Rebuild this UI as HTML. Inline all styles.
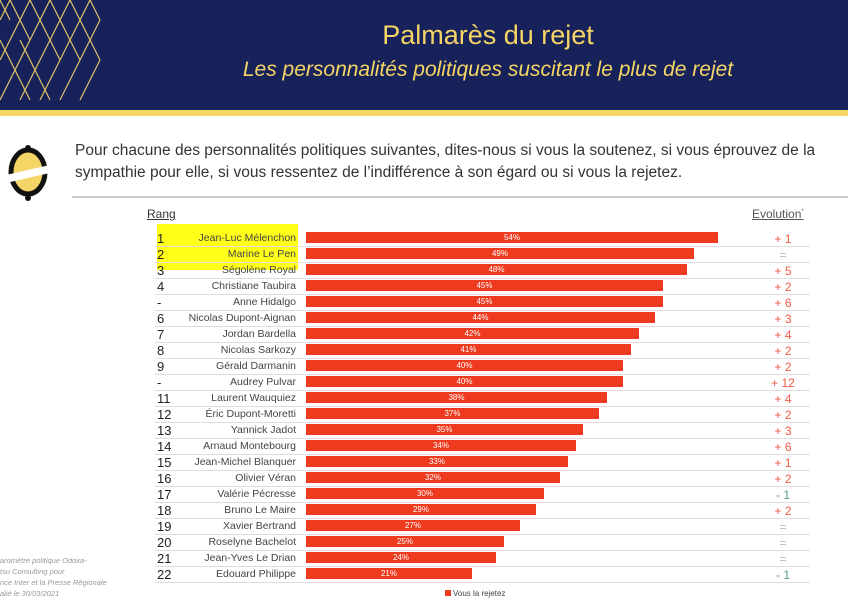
<!DOCTYPE html>
<html><head><meta charset="utf-8"><style>
body{margin:0;width:848px;height:600px;position:relative;overflow:hidden;background:#fff;font-family:"Liberation Sans",sans-serif}
.hdr{position:absolute;left:0;top:0;width:848px;height:110px;background:#17215a}
.stripe{position:absolute;left:0;top:110px;width:848px;height:6px;background:#f5d565}
.t1{position:absolute;left:0;width:976px;text-align:center;top:20px;color:#f5d565;font-size:27px}
.t2{position:absolute;left:0;width:976px;text-align:center;top:58px;color:#f5d565;font-size:21px;font-style:italic}
.q{position:absolute;left:75px;top:140px;font-size:15.5px;color:#333;line-height:22px;width:760px}
.ln{position:absolute;left:72px;top:196px;width:776px;height:2px;background:#ccc}
.row{position:absolute;left:155px;width:655px;height:16px;border-bottom:1px solid #ddd;font-size:10.5px;color:#444;line-height:16px}
.rk{position:absolute;left:2px;top:1px;font-size:13px;color:#222}
.nm{position:absolute;right:514px;top:0;white-space:nowrap}
.bar{position:absolute;left:151px;top:2px;height:11px;background:#ee3a1f;color:#fff;font-size:8px;text-align:center;line-height:11px}
.ev{position:absolute;left:598px;width:60px;text-align:center;top:1px;font-size:12px}
</style></head><body>
<div class="hdr">
<svg width="210" height="110" style="position:absolute;left:0;top:0">
<g stroke="#f5d565" stroke-width="1.2" fill="none" opacity="0.9">
<path d="M0 20 l10 -20 M10 40 l20 -40 M0 60 l30 -60 M10 80 l40 -80 M0 100 l50 -100 M20 100 l50 -100 M40 100 l50 -100 M60 100 l40 -80 M80 100 l20 -40"/>
<path d="M0 0 l10 20 M10 0 l20 40 M30 0 l30 60 M50 0 l30 60 M70 0 l30 60 M90 0 l10 20 M0 40 l30 60 M20 40 l30 60"/>
</g></svg>
<div class="t1">Palmarès du rejet</div>
<div class="t2">Les personnalités politiques suscitant le plus de rejet</div>
</div>
<div class="stripe"></div>
<svg width="50" height="60" style="position:absolute;left:6px;top:142px"><ellipse cx="22" cy="30" rx="17" ry="22" fill="#f5d565" stroke="#111" stroke-width="5"/><polygon points="0,33 48,22 48,30 0,41" fill="#fff"/><circle cx="22" cy="6" r="3" fill="#111"/><circle cx="22" cy="56" r="3" fill="#111"/></svg>
<div class="q">Pour chacune des personnalités politiques suivantes, dites-nous si vous la soutenez, si vous éprouvez de la sympathie pour elle, si vous ressentez de l’indifférence à son égard ou si vous la rejetez.</div>
<div class="ln"></div>
<div style="position:absolute;left:147px;top:207px;font-size:12px;color:#333;text-decoration:underline">Rang</div>
<div style="position:absolute;left:752px;top:207px;font-size:12px;color:#555;text-decoration:underline">Evolution<sup style="font-size:6px">*</sup></div>
<div style="position:absolute;left:157px;top:224px;width:141px;height:46px;background:#ffff1a"></div>
<div id="rows"></div>
<div style="position:absolute;left:0;top:555px;font-size:7.5px;color:#999;font-style:italic;line-height:11px">aromètre politique Odoxa-<br>tsu Consulting pour<br>nce Inter et la Presse Régionale<br>alié le 30/03/2021</div>
<div style="position:absolute;left:445px;top:589px;font-size:8px;color:#444"><span style="display:inline-block;width:6px;height:6px;background:#ee3a1f;margin-right:2px"></span>Vous la rejetez</div>
<script>
var d=[["1","Jean-Luc Mélenchon",54,718,"+ 1"],["2","Marine Le Pen",49,694,"="],["3","Ségolène Royal",48,687,"+ 5"],["4","Christiane Taubira",45,663,"+ 2"],["-","Anne Hidalgo",45,663,"+ 6"],["6","Nicolas Dupont-Aignan",44,655,"+ 3"],["7","Jordan Bardella",42,639,"+ 4"],["8","Nicolas Sarkozy",41,631,"+ 2"],["9","Gérald Darmanin",40,623,"+ 2"],["-","Audrey Pulvar",40,623,"+ 12"],["11","Laurent Wauquiez",38,607,"+ 4"],["12","Éric Dupont-Moretti",37,599,"+ 2"],["13","Yannick Jadot",35,583,"+ 3"],["14","Arnaud Montebourg",34,576,"+ 6"],["15","Jean-Michel Blanquer",33,568,"+ 1"],["16","Olivier Véran",32,560,"+ 2"],["17","Valérie Pécresse",30,544,"- 1"],["18","Bruno Le Maire",29,536,"+ 2"],["19","Xavier Bertrand",27,520,"="],["20","Roselyne Bachelot",25,504,"="],["21","Jean-Yves Le Drian",24,496,"="],["22","Edouard Philippe",21,472,"- 1"]];
var h="";d.forEach(function(r,i){var c=r[4][0]=="+"?"#f05a45":(r[4]=="="?"#bbb":"#5a9a90");
h+='<div class="row" style="top:'+(230+i*16)+'px"><span class="rk">'+r[0]+'</span><span class="nm">'+r[1]+'</span><div class="bar" style="width:'+(r[3]-306)+'px">'+r[2]+'%</div><span class="ev" style="color:'+c+'">'+r[4]+'</span></div>';});
document.getElementById("rows").innerHTML=h;
</script>
</body></html>
